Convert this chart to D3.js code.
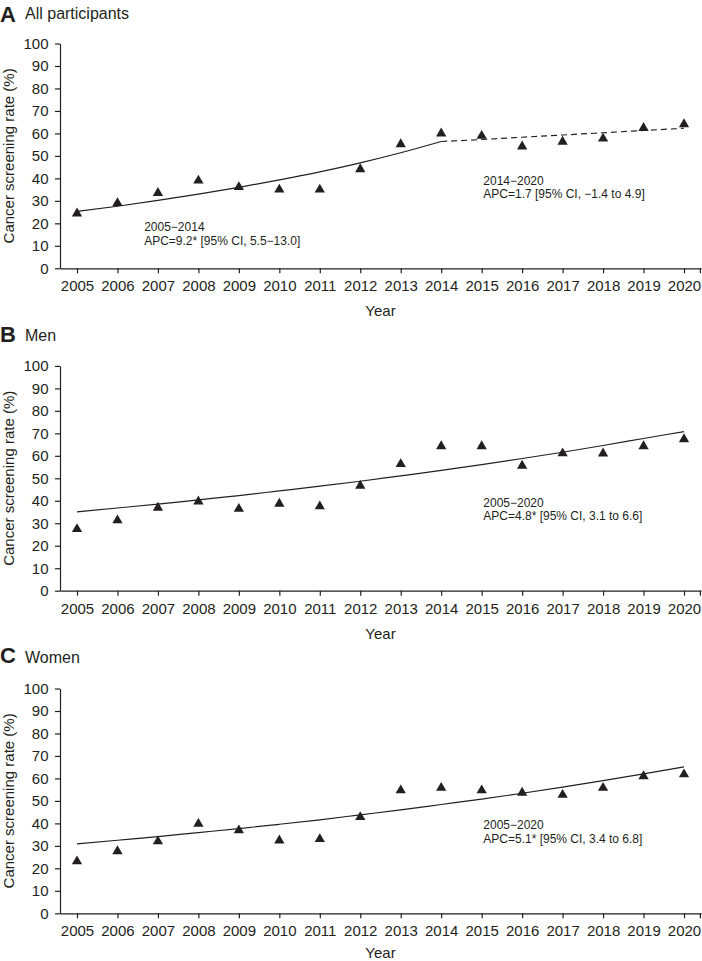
<!DOCTYPE html>
<html><head><meta charset="utf-8">
<script src="https://cdn.jsdelivr.net/npm/d3@7"></script>
<style>
body{margin:0;background:#fff}
svg{display:block}
text{font-family:"Liberation Sans",Arial,Helvetica,sans-serif;fill:#231f20}
</style>
</head><body>
<svg id="chart" width="702" height="961"></svg>
<script>
// ---- data ----
const years = [2005,2006,2007,2008,2009,2010,2011,2012,2013,2014,2015,2016,2017,2018,2019,2020];
const yTickValues = [0,10,20,30,40,50,60,70,80,90,100];

const allRate   = [24.4,29.0,33.5,39.0,36.1,35.0,35.0,44.1,55.2,60.0,58.9,54.2,56.3,57.7,62.4,64.1];
const allFitYearsA = [2005,2006,2007,2008,2009,2010,2011,2012,2013,2014];
const allFitA      = [25.3,27.6,30.2,33.0,36.0,39.3,42.9,46.9,51.4,56.4];
const allFitYearsB = [2014,2015,2016,2017,2018,2019,2020];
const allFitB      = [56.4,57.3,58.3,59.3,60.3,61.3,62.3];

const menRate = [27.4,31.3,36.9,39.7,36.4,38.7,37.5,46.7,56.3,64.3,64.3,55.6,61.1,61.0,64.3,67.4];
const menFit  = [35.1,36.8,38.5,40.4,42.3,44.4,46.5,48.7,51.1,53.5,56.1,58.8,61.6,64.6,67.7,70.8];

const womenRate = [23.1,27.6,32.0,39.8,36.9,32.4,33.0,42.8,54.7,55.8,54.7,53.6,52.7,55.8,61.0,61.8];
const womenFit  = [30.9,32.5,34.1,35.9,37.7,39.6,41.6,43.8,46.0,48.4,50.8,53.4,56.1,59.0,62.0,65.1];

const panelLetters = ["A","B","C"];
const panelTitles  = ["All participants","Men","Women"];
const annotations = [
  [{lines:["2005\u22122014","APC=9.2* [95% CI, 5.5\u221213.0]"], x:2006.66, y:16.5},
   {lines:["2014\u22122020","APC=1.7 [95% CI, \u22121.4 to 4.9]"], x:2015.04, y:37.0}],
  [{lines:["2005\u22122020","APC=4.8* [95% CI, 3.1 to 6.6]"], x:2015.04, y:37.2}],
  [{lines:["2005\u22122020","APC=5.1* [95% CI, 3.4 to 6.8]"], x:2015.04, y:37.3}]
];
const panelRates = [allRate, menRate, womenRate];
const panelFits = [
  [{xs:allFitYearsA, ys:allFitA, dash:null},{xs:allFitYearsB, ys:allFitB, dash:"6,4"}],
  [{xs:years, ys:menFit, dash:null}],
  [{xs:years, ys:womenFit, dash:null}]
];

// ---- layout ----
const ink = "#231f20";
const svg = d3.select("#chart");
const left = 60, right = 701;
const panelY0 = [268.3, 590.7, 913.3];
const plotH = 224.8;
const letterBase = [21.7, 341.5, 663];
const titleBase = [18.5, 341, 663];

const x = d3.scaleLinear().domain([2004.58, 2020.42]).range([left, right]);

panelY0.forEach((y0, i) => {
  const g = svg.append("g");
  const y = d3.scaleLinear().domain([0, 100]).range([y0, y0 - plotH]);

  // titles
  g.append("text").attr("x", 0).attr("y", letterBase[i])
    .style("font-size", "22px").style("font-weight", "bold").text(panelLetters[i]);
  g.append("text").attr("x", 25).attr("y", titleBase[i])
    .style("font-size", "16px").text(panelTitles[i]);

  // y axis
  const ya = g.append("g").attr("transform", `translate(${left},0)`)
    .call(d3.axisLeft(y).tickValues(yTickValues).tickSize(5).tickSizeOuter(0).tickPadding(6.5));
  ya.selectAll("path,line").attr("stroke", ink).attr("stroke-width", 1.2);
  ya.selectAll("text").style("font-size", "15px").style("font-family", '"Liberation Sans",Arial,sans-serif').attr("fill", ink);

  // x axis
  const xa = g.append("g").attr("transform", `translate(0,${y0})`)
    .call(d3.axisBottom(x).tickValues(years).tickFormat(d3.format("d")).tickSize(5).tickSizeOuter(0).tickPadding(7.5));
  xa.selectAll("path,line").attr("stroke", ink).attr("stroke-width", 1.2);
  xa.selectAll("text").style("font-size", "15px").style("font-family", '"Liberation Sans",Arial,sans-serif').attr("fill", ink);
  xa.append("line").attr("x1", x.range()[1] - 0.6).attr("x2", x.range()[1] - 0.6).attr("y1", 0).attr("y2", 5)
    .attr("stroke", ink).attr("stroke-width", 1.2);

  // axis labels
  g.append("text").attr("transform", `translate(13.5,${y(50)}) rotate(-90)`)
    .attr("text-anchor", "middle").style("font-size", "15px").text("Cancer screening rate (%)");
  g.append("text").attr("x", (left + right) / 2).attr("y", Math.min(y0 + 48, 958))
    .attr("text-anchor", "middle").style("font-size", "15px").text("Year");

  // fitted lines
  panelFits[i].forEach(seg => {
    const pts = seg.xs.map((d, k) => [d, seg.ys[k]]);
    g.append("path").datum(pts)
      .attr("d", d3.line().x(d => x(d[0])).y(d => y(d[1])).curve(d3.curveMonotoneX))
      .attr("fill", "none").attr("stroke", ink).attr("stroke-width", 1.2)
      .attr("stroke-dasharray", seg.dash);
  });

  // markers
  g.selectAll(".pt").data(panelRates[i]).enter().append("path")
    .attr("transform", (d, k) => `translate(${x(years[k])},${y(d)})`)
    .attr("d", d3.symbol().type(d3.symbolTriangle).size(46))
    .attr("fill", ink);

  // annotations
  annotations[i].forEach(a => {
    const t = g.append("text").attr("x", x(a.x)).attr("y", y(a.y)).style("font-size", "12px");
    a.lines.forEach((ln, k) => {
      t.append("tspan").attr("x", x(a.x)).attr("dy", k === 0 ? 0 : 13.3).text(ln);
    });
  });
});
</script>
</body></html>
